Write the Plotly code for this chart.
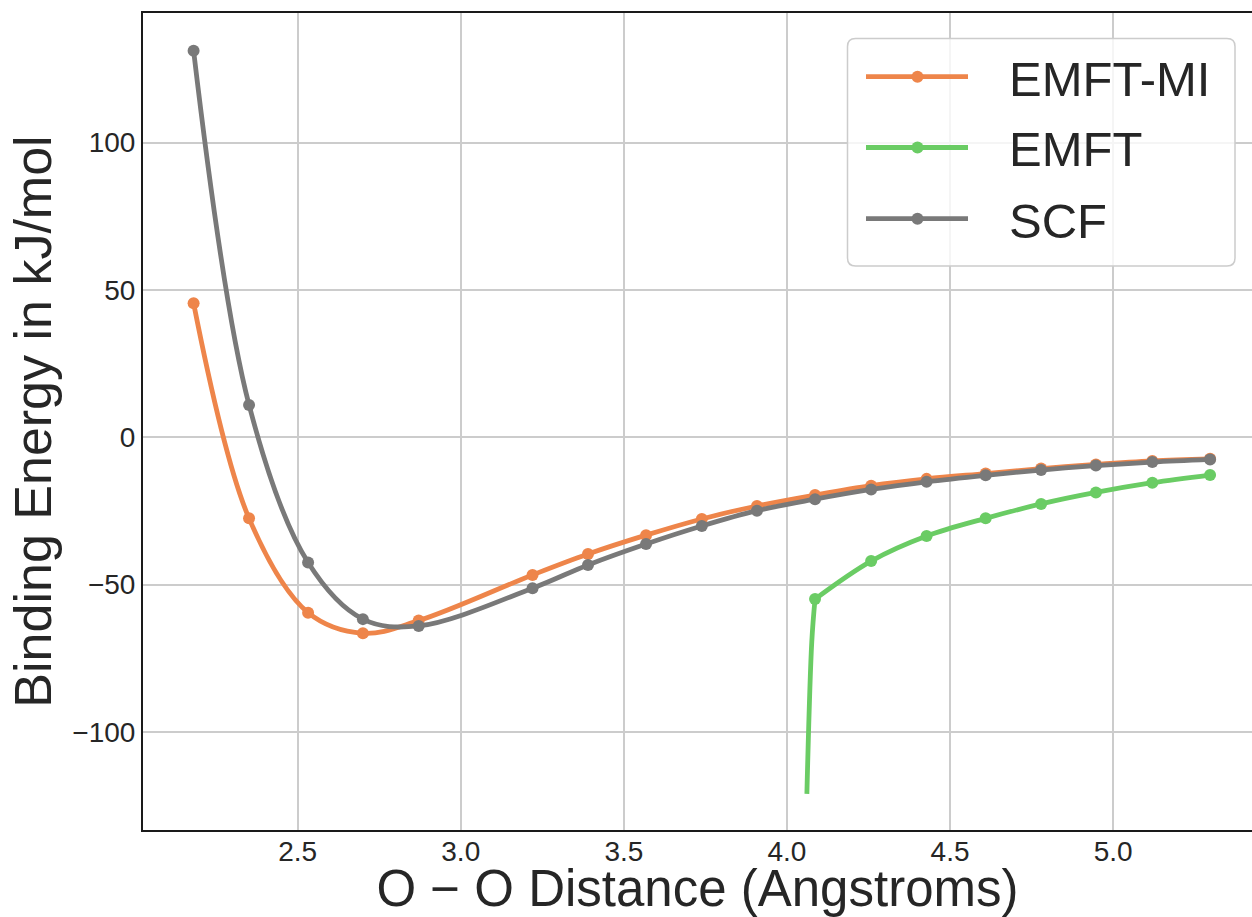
import plotly.graph_objects as go

# O-O separations (Angstroms) shared by the SCF and EMFT-MI scans
dist = [2.181, 2.351, 2.532, 2.700, 2.871, 3.220, 3.390, 3.568, 3.739,
        3.908, 4.086, 4.258, 4.428, 4.609, 4.779, 4.947, 5.120, 5.297]
scf = [131.2, 11.0, -42.5, -61.7, -64.0, -51.2, -43.3, -36.2, -30.1,
       -24.9, -21.0, -17.7, -15.1, -12.9, -11.1, -9.6, -8.4, -7.5]
emft_mi = [45.5, -27.5, -59.5, -66.5, -62.2, -46.7, -39.6, -33.2, -27.7,
           -23.3, -19.6, -16.4, -14.1, -12.3, -10.6, -9.2, -8.0, -7.3]

# EMFT scan: the two shortest separations are unmarked curve points
emft_dist = [4.061, 4.076, 4.086, 4.258, 4.428, 4.609, 4.779, 4.947, 5.120, 5.297]
emft = [-121.0, -69.4, -54.9, -42.0, -33.5, -27.5, -22.6, -18.7, -15.4, -12.8]
emft_first_marked = 2

x_ticks = [2.5, 3.0, 3.5, 4.0, 4.5, 5.0]
x_tick_text = ["2.5", "3.0", "3.5", "4.0", "4.5", "5.0"]
y_ticks = [-100, -50, 0, 50, 100]

series_names = ["EMFT-MI", "EMFT", "SCF"]
series_colors = ["#EE854A", "#6ACC64", "#797979"]

FONT = "Liberation Sans, Arial, Helvetica, sans-serif"
TEXT = "#262626"
W, H = 1252, 917
ML, MR, MT, MB = 143, 0, 13, 87
LW = 4.8
MS = 12

fig = go.Figure()


def curve(x, y, color, show_markers=True):
    return go.Scatter(
        x=x, y=y, mode="lines+markers" if show_markers else "lines",
        line=dict(color=color, width=LW, shape="spline", smoothing=1.0),
        marker=dict(color=color, size=MS, line=dict(width=0)),
        showlegend=False, hoverinfo="x+y",
    )


k = emft_first_marked
fig.add_trace(curve(dist, emft_mi, series_colors[0]))
# steep short-range EMFT branch, then the marked scan points
fig.add_trace(curve(emft_dist[:k + 1], emft[:k + 1], series_colors[1], False))
fig.add_trace(curve(emft_dist[k:], emft[k:], series_colors[1]))
fig.add_trace(curve(dist, scf, series_colors[2]))

# pixel -> paper helpers for the hand-drawn legend
pw, ph = W - ML - MR, H - MT - MB


def px(x):
    return (x - ML) / pw


def py(y):
    return (H - MB - y) / ph


shapes = []
annotations = []

# legend frame with rounded corners
bx0, bx1, by0, by1, r = 847.5, 1235.0, 38.5, 266.0, 8.0
path = (
    f"M {px(bx0 + r)} {py(by0)} L {px(bx1 - r)} {py(by0)} "
    f"Q {px(bx1)} {py(by0)} {px(bx1)} {py(by0 + r)} "
    f"L {px(bx1)} {py(by1 - r)} "
    f"Q {px(bx1)} {py(by1)} {px(bx1 - r)} {py(by1)} "
    f"L {px(bx0 + r)} {py(by1)} "
    f"Q {px(bx0)} {py(by1)} {px(bx0)} {py(by1 - r)} "
    f"L {px(bx0)} {py(by0 + r)} "
    f"Q {px(bx0)} {py(by0)} {px(bx0 + r)} {py(by0)} Z"
)
shapes.append(dict(type="path", path=path, xref="paper", yref="paper",
                   line=dict(color="#cccccc", width=1.5),
                   fillcolor="rgba(255,255,255,0.8)", layer="above"))

row_y = [76.7, 147.5, 218.7]
for name, color, yy in zip(series_names, series_colors, row_y):
    shapes.append(dict(type="line", xref="paper", yref="paper",
                       x0=px(866), x1=px(968), y0=py(yy), y1=py(yy),
                       line=dict(color=color, width=LW), layer="above"))
    rr = MS / 2
    shapes.append(dict(type="circle", xref="paper", yref="paper",
                       x0=px(917.5 - rr), x1=px(917.5 + rr),
                       y0=py(yy + rr), y1=py(yy - rr),
                       fillcolor=color, line=dict(width=0), layer="above"))
    annotations.append(dict(text=name, xref="paper", yref="paper",
                            x=px(1007), y=py(yy + 2), xanchor="left",
                            yanchor="middle", showarrow=False,
                            font=dict(family=FONT, size=49, color=TEXT)))

fig.update_layout(
    width=W, height=H,
    margin=dict(l=ML, r=MR, t=MT, b=MB, pad=0),
    paper_bgcolor="white", plot_bgcolor="white",
    font=dict(family=FONT, color=TEXT),
    shapes=shapes, annotations=annotations,
    showlegend=False,
    xaxis=dict(
        range=[2.0259, 5.4255], tickvals=x_ticks, ticktext=x_tick_text,
        showgrid=True, gridcolor="#cccccc", gridwidth=1.5,
        zeroline=False, showline=True, linecolor="#1a1a1a", linewidth=2,
        mirror=True, ticks="", ticklabelstandoff=-5,
        tickfont=dict(family=FONT, size=28, color=TEXT),
        title=dict(text="O \u2212 O Distance (Angstroms)", standoff=16,
                   font=dict(family=FONT, size=51, color=TEXT)),
        automargin=False,
    ),
    yaxis=dict(
        range=[-133.26, 144.0], tickvals=y_ticks,
        showgrid=True, gridcolor="#cccccc", gridwidth=1.5,
        zeroline=False, showline=True, linecolor="#1a1a1a", linewidth=2,
        mirror=False, ticks="",
        tickfont=dict(family=FONT, size=28, color=TEXT),
        title=dict(text="Binding Energy in kJ/mol", standoff=4,
                   font=dict(family=FONT, size=52, color=TEXT)),
        automargin=False,
    ),
)

fig.write_html("out.html")
